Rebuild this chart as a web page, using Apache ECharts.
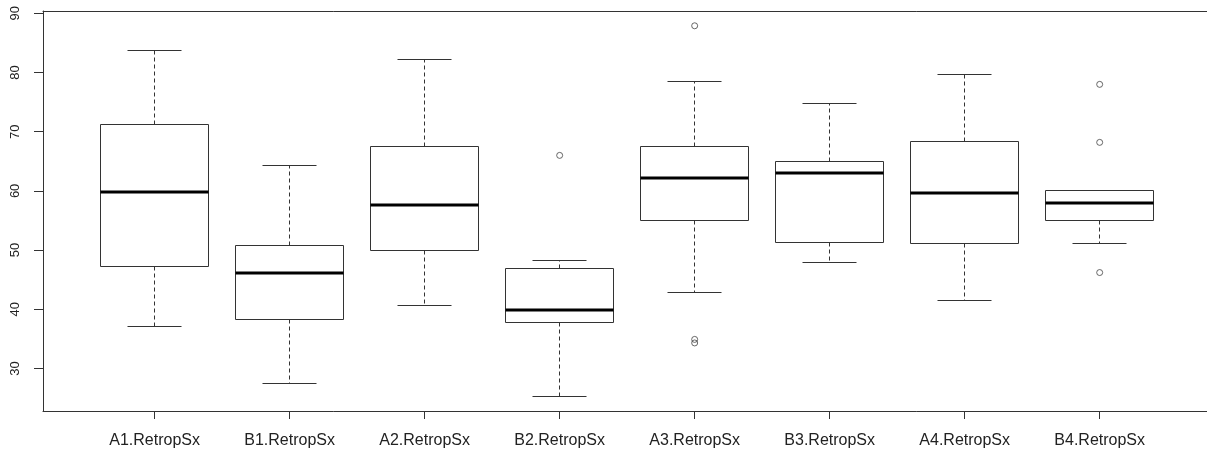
<!DOCTYPE html>
<html>
<head>
<meta charset="utf-8">
<script src="https://cdn.jsdelivr.net/npm/echarts@6/dist/echarts.min.js"></script>
<style>html,body{margin:0;padding:0;background:#fff}#c{width:1207px;height:455px}</style>
</head>
<body>
<div id="c"></div>
<script>
// ---- data ----
const categories = ['A1.RetropSx', 'B1.RetropSx', 'A2.RetropSx', 'B2.RetropSx', 'A3.RetropSx', 'B3.RetropSx', 'A4.RetropSx', 'B4.RetropSx'];
const whiskerLow  = [37.0, 27.4, 40.6, 25.3, 42.9, 47.9, 41.5, 51.1];
const q1          = [47.2, 38.2, 50.0, 37.7, 55.0, 51.3, 51.1, 55.0];
const medians     = [59.8, 46.1, 57.6, 39.8, 62.1, 63.1, 59.6, 58.0];
const q3          = [71.2, 50.7, 67.5, 46.8, 67.5, 64.9, 68.4, 60.1];
const whiskerHigh = [83.8, 64.3, 82.2, 48.3, 78.5, 74.8, 79.6, 60.1];
const outlierCategory = ['B2.RetropSx', 'A3.RetropSx', 'A3.RetropSx', 'A3.RetropSx', 'B4.RetropSx', 'B4.RetropSx', 'B4.RetropSx'];
const outlierValue    = [66.0, 87.9, 34.9, 34.3, 78.0, 68.2, 46.2];
const yTicks = [30, 40, 50, 60, 70, 80, 90];

// ---- build series data ----
const positions = categories.map((c, i) => i + 1);
const boxData = categories.map((c, i) => [positions[i], whiskerLow[i], q1[i], medians[i], q3[i], whiskerHigh[i]]);
const outlierData = outlierCategory.map((c, i) => [categories.indexOf(c) + 1, outlierValue[i]]);

const LINE = '#333';
const TEXT = '#222';
const FONT = '"Liberation Sans", Arial, sans-serif';
const X_MIN = 0.173, X_MAX = 8.795;

function crisp(v) { return Math.round(v - 0.5) + 0.5; }

function renderBox(params, api) {
  const x = api.value(0);
  const lo = api.value(1), a = api.value(2), m = api.value(3), b = api.value(4), hi = api.value(5);
  const unit = api.size([1, 0])[0];
  const half = unit * 0.4, capHalf = unit * 0.2;
  const pM = api.coord([x, m]);
  const cx = crisp(pM[0]);
  const yLo = crisp(api.coord([x, lo])[1]);
  const yA = crisp(api.coord([x, a])[1]);
  const yB = crisp(api.coord([x, b])[1]);
  const yHi = crisp(api.coord([x, hi])[1]);
  const yM = Math.round(pM[1]);
  const left = crisp(cx - half), right = crisp(cx + half);
  const thin = { stroke: LINE, lineWidth: 1 };
  const dashed = { stroke: LINE, lineWidth: 1, lineDash: [4, 3] };
  const children = [];
  if (yHi < yB) children.push({ type: 'line', shape: { x1: cx, y1: yB, x2: cx, y2: yHi }, style: dashed });
  if (yLo > yA) children.push({ type: 'line', shape: { x1: cx, y1: yA, x2: cx, y2: yLo }, style: dashed });
  children.push({ type: 'line', shape: { x1: crisp(cx - capHalf), y1: yHi, x2: crisp(cx + capHalf), y2: yHi }, style: thin });
  children.push({ type: 'line', shape: { x1: crisp(cx - capHalf), y1: yLo, x2: crisp(cx + capHalf), y2: yLo }, style: thin });
  children.push({ type: 'rect', shape: { x: left, y: yB, width: right - left, height: yA - yB }, style: { fill: 'none', stroke: LINE, lineWidth: 1 } });
  children.push({ type: 'line', shape: { x1: left, y1: yM, x2: right, y2: yM }, style: { stroke: '#000', lineWidth: 3 } });
  return { type: 'group', children };
}

const chart = echarts.init(document.getElementById('c'), null, { renderer: 'canvas' });
chart.setOption({
  animation: false,
  backgroundColor: '#fff',
  grid: { left: 43, top: 11, bottom: 44, right: 0, show: false },
  xAxis: [{
    type: 'value', min: X_MIN, max: X_MAX, position: 'bottom',
    axisLine: { show: true, lineStyle: { color: LINE, width: 1 } },
    splitLine: { show: false },
    axisTick: { show: true, customValues: positions, length: 8, lineStyle: { color: LINE } },
    axisLabel: { customValues: positions, formatter: v => categories[Math.round(v) - 1], fontSize: 16, color: TEXT, fontFamily: FONT, margin: 22 }
  }, {
    type: 'value', min: X_MIN, max: X_MAX, position: 'top',
    axisLine: { show: true, lineStyle: { color: LINE, width: 1 } },
    splitLine: { show: false }, axisTick: { show: false }, axisLabel: { show: false }
  }],
  yAxis: {
    type: 'value', min: 22.8, max: 90.4,
    axisLine: { show: true, lineStyle: { color: LINE, width: 1 } },
    splitLine: { show: false },
    axisTick: { show: true, customValues: yTicks, length: 9, lineStyle: { color: LINE } },
    axisLabel: { customValues: yTicks, rotate: 90, fontSize: 13, color: TEXT, fontFamily: FONT, margin: 21 }
  },
  series: [
    { type: 'custom', renderItem: renderBox, data: boxData, encode: { x: 0, y: [1, 2, 3, 4, 5] }, silent: true },
    { type: 'scatter', data: outlierData, symbol: 'circle', symbolSize: 6,
      itemStyle: { color: 'transparent', borderColor: '#444', borderWidth: 1 }, silent: true }
  ]
});
</script>
</body>
</html>
